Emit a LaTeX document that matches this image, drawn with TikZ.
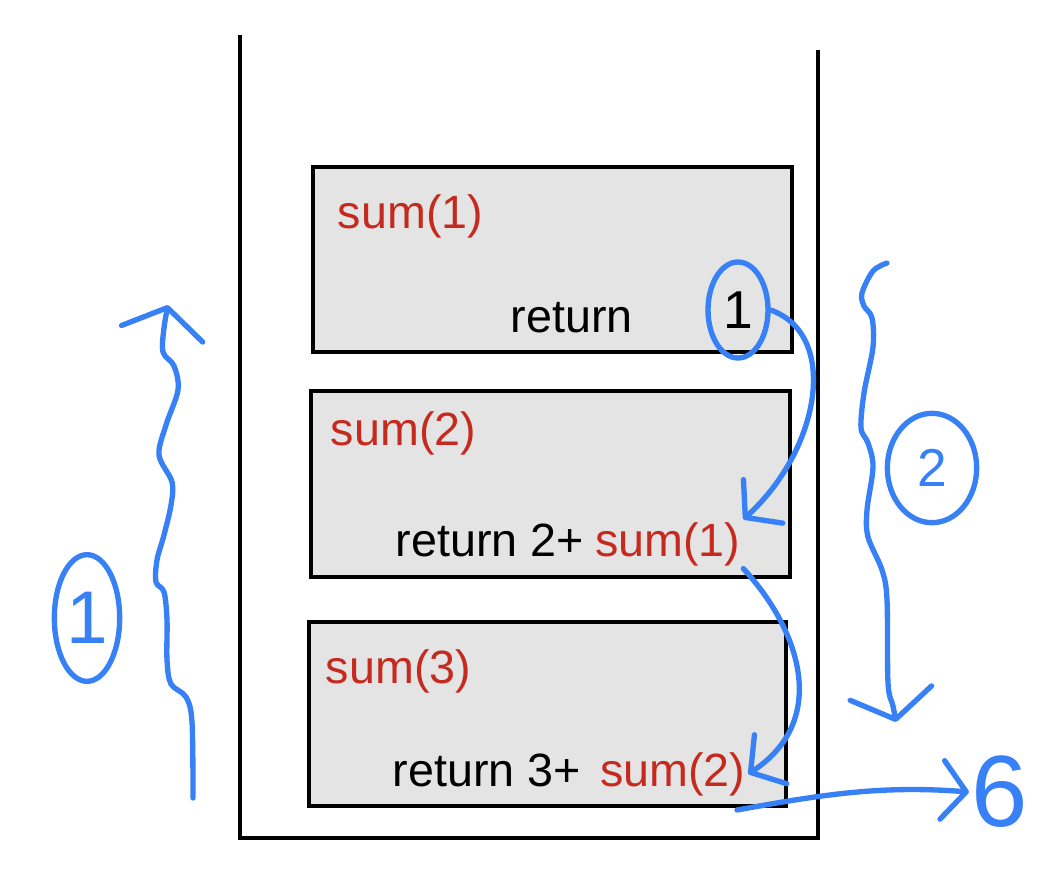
\documentclass[tikz,border=0pt]{standalone}
\usepackage{fontspec}
\setmainfont{Liberation Sans}
\usetikzlibrary{arrows.meta,shapes.geometric}
\definecolor{penblue}{RGB}{55,128,246}
\definecolor{penred}{RGB}{198,42,31}
\definecolor{boxgray}{RGB}{228,228,228}

\begin{document}
\begin{tikzpicture}[x=0.75pt, y=-0.75pt,
    wall/.style = {line width=3.4pt, line join=miter},
    frame box/.style = {draw, line width=3.2pt, fill=boxgray, inner sep=0pt},
    code/.style = {anchor=base west, inner sep=2pt, font=\fontsize{35}{42}\selectfont},
    call/.style = {code, text=penred},
    pen/.style = {penblue, line width=4pt, line cap=round, line join=round},
    barb/.style = {pen, -{Straight Barb[length=18pt, width=44pt, round]}},
    wide barb/.style = {pen, -{Straight Barb[length=20pt, width=62pt, round]}},
    ring/.style = {ellipse, draw=penblue, line width=4pt, inner sep=0pt}]
    \useasboundingbox (0,0) rectangle (1052,874);

    % the stack
    \draw[wall] (240,35) -- (240,838) -- (818,838) -- (818,50);

    \node[frame box, minimum width=359pt, minimum height=139pt] (frame1) at (552.5,259.5) {};
    \node[frame box, minimum width=359pt, minimum height=139.5pt] (frame2) at (550.5,484) {};
    \node[frame box, minimum width=358pt, minimum height=138pt] (frame3) at (547.5,714) {};

    \node[call] (name1) at (335,228) {sum(1)};
    \node[code] (ret1) at (508,332) {return};
    \node[ring, minimum width=45pt, minimum height=72pt, font=\fontsize{40}{48}\selectfont] (val1) at (738,310) {1};

    \node[call] (name2) at (328,445) {sum(2)};
    \node[code] (ret2) at (393,556) {return 2+};
    \node[call] (call2) at ([xshift=4pt]ret2.base east) {sum(1)};

    \node[call] (name3) at (323,683) {sum(3)};
    \node[code] (ret3) at (390,786) {return 3+};
    \node[call] (call3) at ([xshift=10pt]ret3.base east) {sum(2)};

    % steps
    \node[ring, minimum width=49pt, minimum height=95pt, text=penblue, font=\fontsize{56}{60}\selectfont] (step1) at (87,618) {1};
    \node[ring, minimum width=67pt, minimum height=82pt, text=penblue, font=\fontsize{40}{44}\selectfont] (step2) at (932,468) {2};
    \node[text=penblue, inner sep=2pt, font=\fontsize{76}{80}\selectfont] (result) at (1000,792) {6};

    \coordinate (push-bot) at (193,798);
    \coordinate (push-top) at (168,305);
    \draw[wide barb] plot[smooth, tension=0.55] coordinates {(push-bot) (192,722) (186,697) (171,684) (167,660) (167,620) (164,592) (156,582) (157,560) (164,535) (171,505) (172,482) (159,455) (166,425) (178,390) (174,366) (163,352) (164,328) (push-top)};

    \coordinate (pop-top) at (887,263);
    \coordinate (pop-bot) at (896,722);
    \draw[wide barb] plot[smooth, tension=0.55] coordinates {(pop-top) (873,271) (862,293) (864,306) (872,318) (873,347) (864,393) (861,428) (868,443) (873,467) (867,510) (868,537) (882,570) (887,600) (888,683) (893,706) (pop-bot)};

    % returns
    \draw[barb] (val1.east) .. controls (840,335) and (820,450) .. (call2.north east);
    \draw[barb] (call2.south east) .. controls (800,630) and (830,720) .. (call3.east);
    \coordinate (exit) at (737,810);
    \draw[barb] (exit) .. controls (820,795) and (880,785) .. (result.west);
\end{tikzpicture}
\end{document}
